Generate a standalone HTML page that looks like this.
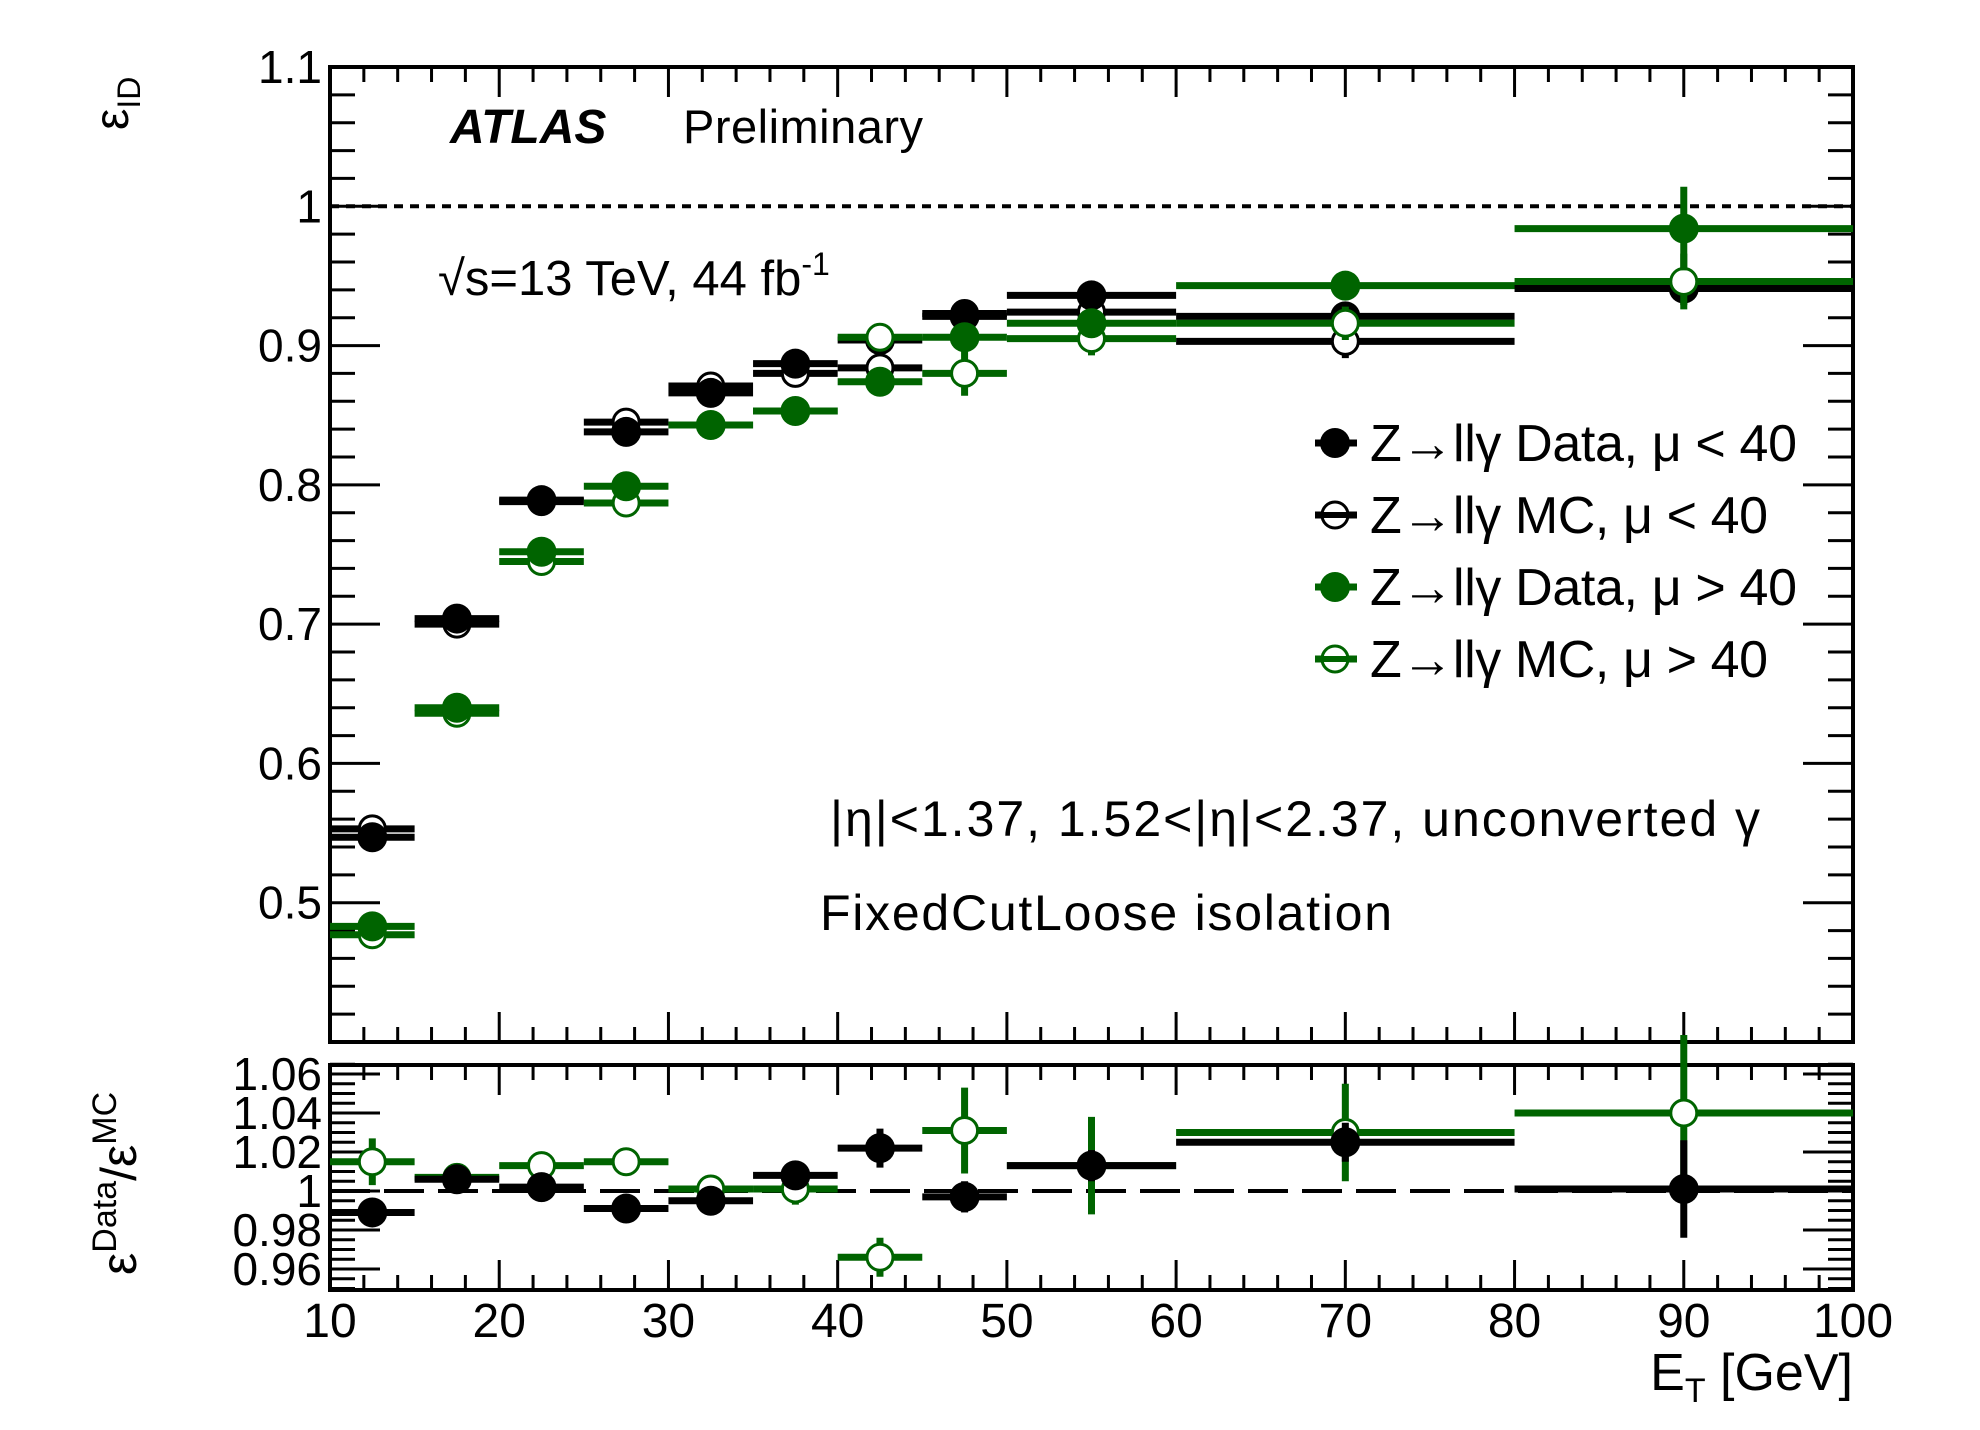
<!DOCTYPE html>
<html><head><meta charset="utf-8"><style>
html,body{margin:0;padding:0;background:#fff;}
svg{display:block;font-family:"Liberation Sans",sans-serif;}
</style></head><body>
<svg id="chart" width="1980" height="1430" viewBox="0 0 1980 1430">
<g id="g-upper"></g>
<g id="g-lower"></g>
<g id="g-text">
<text x="450" y="143" font-size="48" font-weight="bold" font-style="italic">ATLAS</text>
<text x="683" y="143" font-size="47" textLength="240">Preliminary</text>
<text x="438" y="295" font-size="49">√s=13 TeV, 44 fb<tspan dy="-20" font-size="32">-1</tspan></text>
<text x="830" y="836" font-size="50" textLength="930">|η|&lt;1.37, 1.52&lt;|η|&lt;2.37, unconverted γ</text>
<text x="820" y="930" font-size="50" textLength="572">FixedCutLoose isolation</text>
<text x="1853" y="1390" font-size="52" text-anchor="end">E<tspan dy="12" font-size="34">T</tspan><tspan dy="-12"> [GeV]</tspan></text>
<text transform="translate(128,130) rotate(-90)" font-size="48">ε<tspan dy="12" font-size="32">ID</tspan></text>
<text transform="translate(136,1275) rotate(-90)" font-size="50">ε<tspan dy="-20" font-size="34">Data</tspan><tspan dy="20">/ε</tspan><tspan dy="-20" font-size="34">MC</tspan></text>
</g>
<g id="g-legend"></g>
</svg>
<script>
const binLo = [10,15,20,25,30,35,40,45,50,60,80];
const binHi = [15,20,25,30,35,40,45,50,60,80,100];
const dataLow = [0.547,0.704,0.789,0.838,0.866,0.887,0.904,0.921,0.936,0.921,0.941];
const mcLow = [0.553,0.700,0.788,0.845,0.871,0.880,0.884,0.923,0.924,0.903,0.943];
const dataHigh = [0.483,0.640,0.752,0.799,0.843,0.853,0.874,0.906,0.916,0.943,0.984];
const mcHigh = [0.477,0.636,0.745,0.787,0.843,0.853,0.906,0.880,0.905,0.916,0.946];
const errDataLow = [0.004,0.004,0.003,0.003,0.003,0.003,0.004,0.005,0.005,0.008,0.012];
const errMcLow = [0.003,0.003,0.003,0.003,0.003,0.003,0.003,0.004,0.004,0.012,0.01];
const errDataHigh = [0.004,0.004,0.004,0.004,0.004,0.004,0.005,0.006,0.008,0.008,0.03];
const errMcHigh = [0.004,0.004,0.004,0.004,0.004,0.004,0.005,0.016,0.012,0.012,0.02];
const ratioLow = [0.989,1.006,1.002,0.991,0.995,1.008,1.022,0.997,1.013,1.025,1.001];
const ratioHigh = [1.015,1.007,1.013,1.015,1.001,1.001,0.966,1.031,1.013,1.030,1.040];
const errRatioLow = [0.003,0.004,0.003,0.003,0.003,0.004,0.01,0.008,0.008,0.01,0.025];
const errRatioHigh = [0.012,0.007,0.005,0.004,0.004,0.008,0.01,0.022,0.025,0.025,0.04];
const upperTicks = [0.5,0.6,0.7,0.8,0.9,1,1.1];
const upperTickLabels = ["0.5","0.6","0.7","0.8","0.9","1","1.1"];
const lowerTicks = [0.96,0.98,1,1.02,1.04,1.06];
const lowerTickLabels = ["0.96","0.98","1","1.02","1.04","1.06"];
const xTicks = [10,20,30,40,50,60,70,80,90,100];
const xTickLabels = ["10","20","30","40","50","60","70","80","90","100"];

const NS="http://www.w3.org/2000/svg";
const L=330,R=1853,UT=67,UB=1042,LT=1065,LB=1290;
const GREEN="#006400";
const X=v=>L+(v-10)*(R-L)/90;
const YU=v=>UB-(v-0.4)*(UB-UT)/0.7;
const YL=v=>1191-(v-1)*1950;
function mk(p,tag,a){const e=document.createElementNS(NS,tag);for(const k in a)e.setAttribute(k,a[k]);p.appendChild(e);return e;}
const gu=document.getElementById('g-upper'),gl=document.getElementById('g-lower'),gleg=document.getElementById('g-legend');

function frame(g,top,bot,Y,ymin,ymax,minorStep,majors,labels,name){
  const f=mk(g,'rect',{x:L,y:top,width:R-L,height:bot-top,fill:'none',stroke:'#000','stroke-width':4});
  
  
  let s='';
  for(let v=10;v<=100.001;v+=2){const maj=Math.abs(v%10)<0.01;const len=maj?30:15;const x=X(v);
    s+=`M${x},${bot}v${-len}M${x},${top}v${len}`;}
  const n=Math.round((ymax-ymin)/minorStep);
  for(let i=0;i<=n;i++){const v=ymin+i*minorStep;const y=Y(v);if(y<top-1||y>bot+1)continue;
    const maj=majors.some(m=>Math.abs(m-v)<1e-6);const len=maj?50:25;
    s+=`M${L},${y}h${len}M${R},${y}h${-len}`;}
  const t=mk(g,'path',{d:s,stroke:'#000','stroke-width':3,fill:'none'});
  
  
  majors.forEach((m,i)=>{const tx=mk(g,'text',{x:L-8,y:Y(m)+16,'font-size':46,'text-anchor':'end'});tx.textContent=labels[i];
    
    });
}
frame(gu,UT,UB,YU,0.4,1.1,0.02,upperTicks,upperTickLabels,'upper');
frame(gl,LT,LB,YL,0.95,1.065,0.005,lowerTicks,lowerTickLabels,'lower');
xTicks.forEach((v,i)=>{const t=mk(gl,'text',{x:X(v),y:1337,'font-size':48,'text-anchor':'middle'});t.textContent=xTickLabels[i];
  
  });

const ref1=mk(gu,'line',{x1:L,x2:R,y1:YU(1),y2:YU(1),stroke:'#000','stroke-width':4,'stroke-dasharray':'9 7'});


const ref2=mk(gl,'line',{x1:L,x2:R,y1:YL(1),y2:YL(1),stroke:'#000','stroke-width':4,'stroke-dasharray':'40 14'});



function series(g,Y,vals,errs,color,open,name){
  const sg=mk(g,'g',{});
  
  
  vals.forEach((v,i)=>{
    const xc=X((binLo[i]+binHi[i])/2),y=Y(v);
    mk(sg,'line',{x1:X(binLo[i]),x2:X(binHi[i]),y1:y,y2:y,stroke:color,'stroke-width':7});
    mk(sg,'line',{x1:xc,x2:xc,y1:Y(v-errs[i]),y2:Y(v+errs[i]),stroke:color,'stroke-width':7});
    const c=mk(sg,'circle',{cx:xc,cy:y,r:open?13:15,fill:open?'#fff':color,stroke:color,'stroke-width':open?3:0});
    
    
  });
}
series(gu,YU,mcLow,errMcLow,'#000',true,'mc-mu-low');
series(gu,YU,dataLow,errDataLow,'#000',false,'data-mu-low');
series(gu,YU,mcHigh,errMcHigh,GREEN,true,'mc-mu-high');
series(gu,YU,dataHigh,errDataHigh,GREEN,false,'data-mu-high');
series(gl,YL,ratioHigh,errRatioHigh,GREEN,true,'ratio-mu-high');
series(gl,YL,ratioLow,errRatioLow,'#000',false,'ratio-mu-low');

const legItems=[['Z→llγ Data, μ < 40','#000',false],['Z→llγ MC, μ < 40','#000',true],['Z→llγ Data, μ > 40',GREEN,false],['Z→llγ MC, μ > 40',GREEN,true]];
const legLen=[427,398,427,398];
legItems.forEach((it,i)=>{const y=443+i*72;
  const e=mk(gleg,'g',{});
  
  
  mk(e,'line',{x1:1315,x2:1357,y1:y,y2:y,stroke:it[1],'stroke-width':7});
  mk(e,'circle',{cx:1335,cy:y,r:it[2]?13:15,fill:it[2]?'#fff':it[1],stroke:it[1],'stroke-width':it[2]?3:0});
  if(it[2])mk(e,'line',{x1:1315,x2:1357,y1:y,y2:y,stroke:it[1],'stroke-width':6});
  const t=mk(e,'text',{x:1370,y:y+18,'font-size':52,textLength:legLen[i]});t.textContent=it[0];
});
</script>
</body></html>
